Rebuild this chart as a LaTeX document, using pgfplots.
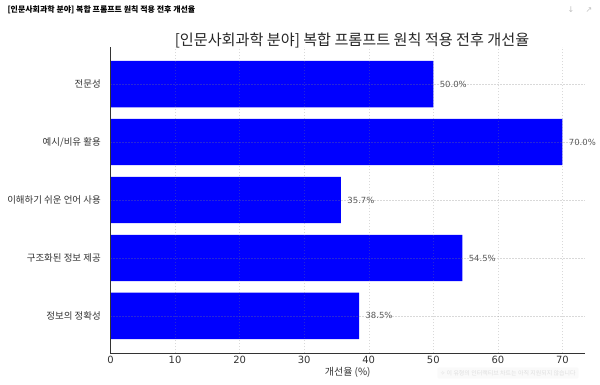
\documentclass[border=0pt]{standalone}
\usepackage{fontspec}
\setmainfont{DejaVu Sans}
\newfontfamily\kr{Noto Sans CJK KR}
\usepackage{pgfplots}
\pgfplotsset{compat=1.18}
\begin{document}
\begin{tikzpicture}
\begin{axis}[
  scale only axis, width=474.5bp, height=306bp,
  xmin=0, xmax=73.5, ymin=-0.64, ymax=4.64,
  xbar, bar width=0.8,
  axis x line*=bottom, axis y line*=left,
  axis line style={-, black!80, line width=0.9pt},
  axis on top,
  grid=major, grid style={dash pattern=on 1.5bp off 1.5bp, draw=gray, opacity=0.3, line width=0.4pt},
  xtick={0,10,...,70}, ytick={0,1,2,3,4},
  yticklabels={정보의 정확성, 구조화된 정보 제공, 이해하기 쉬운 언어 사용, 예시/비유 활용, 전문성},
  tick style={draw=none},
  /pgf/number format/assume math mode=true,
  xticklabel style={font=\fontsize{10}{12}\selectfont, text=black!80},
  yticklabel style={font=\kr\fontsize{9.5}{11}\selectfont, text=black!80, xshift=-2bp},
  xlabel={\kr 개선율 (\%)},
  xlabel style={font=\fontsize{10}{12}\selectfont, text=black!80, yshift=4bp},
]
\addplot[fill=blue, draw=none,
  nodes near coords={\pgfmathprintnumber[fixed,precision=1,fixed zerofill]{\pgfplotspointmeta}\%},
  point meta=x,
  every node near coord/.append style={font=\fontsize{8.5}{10}\selectfont, text=black!65, anchor=west, xshift=3bp}]
  coordinates {(38.5,0) (54.5,1) (35.7,2) (70.0,3) (50.0,4)};
\end{axis}
\path (current axis.south west) ++(-110.5bp,-32bp) coordinate (O);
\node[anchor=west, font=\kr\bfseries\fontsize{8}{10}\selectfont] at ([shift={(4bp,375bp)}]O) {[인문사회과학 분야] 복합 프롬프트 원칙 적용 전후 개선율};
\node[font=\kr\fontsize{15.2}{18}\selectfont, text=black!85] at ([shift={(352bp,345bp)}]O) {[인문사회과학 분야] 복합 프롬프트 원칙 적용 전후 개선율};
\node[font=\kr\fontsize{6}{7}\selectfont, text=gray!25, fill=gray!4, rounded corners=2bp, inner sep=3bp] at ([shift={(508bp,12bp)}]O) {{\rmfamily ✧} 이 유형의 인터랙티브 차트는 아직 지원되지 않습니다};
\node[font=\fontsize{8}{10}\selectfont, text=gray!50] at ([shift={(571bp,375bp)}]O) {↓};
\node[font=\fontsize{8}{10}\selectfont, text=gray!50] at ([shift={(589bp,375bp)}]O) {↗};
\pgfresetboundingbox
\path (O) rectangle ++(600bp,385bp);
\end{tikzpicture}
\end{document}
